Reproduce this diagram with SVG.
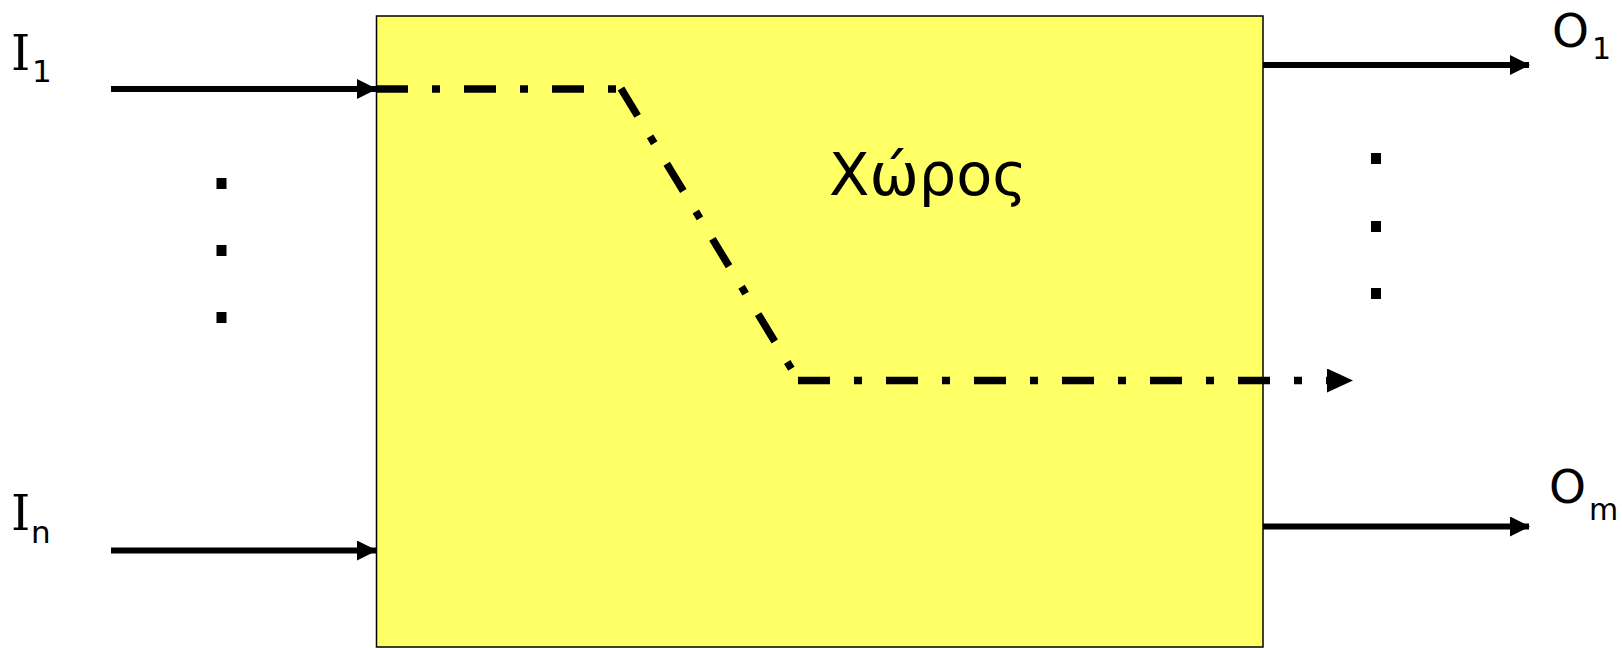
<svg xmlns="http://www.w3.org/2000/svg" width="1622" height="648" viewBox="0 0 1622 648">
<style>
.lbl{font-family:"DejaVu Sans",Verdana,sans-serif;fill:#000}
.ser{font-family:"DejaVu Serif","Liberation Serif",serif;fill:#000}
.solid{stroke:#000;stroke-width:6;fill:none}
.dd{stroke:#000;stroke-width:7.5;fill:none;stroke-dasharray:32 24 8 24;stroke-linecap:butt}
</style>
<defs>
<marker id="ah" markerUnits="userSpaceOnUse" markerWidth="20" markerHeight="20" refX="19" refY="10" orient="auto">
<path d="M0,0 L20,10 L0,20 Z" fill="#000"/>
</marker>
<marker id="ahd" markerUnits="userSpaceOnUse" markerWidth="26" markerHeight="24" refX="0" refY="12" orient="auto">
<path d="M0,0 L26,12 L0,24 Z" fill="#000"/>
</marker>
</defs>
<rect width="1622" height="648" fill="#fff"/>
<g id="space">
<rect x="376.5" y="16" width="886.5" height="631" fill="#FFFF66" stroke="#000" stroke-width="1.5"/>
<text class="lbl" x="829" y="195" font-size="59">Χώρος</text>
</g>
<g id="input-1">
<text class="ser" x="11" y="70" font-size="49">I</text>
<text class="lbl" x="32" y="82" font-size="31">1</text>
</g>
<g id="input-n">
<text class="ser" x="11" y="530" font-size="49">I</text>
<text class="lbl" x="31" y="543" font-size="31">n</text>
</g>
<g id="output-1">
<text class="lbl" x="1552" y="47" font-size="47">O</text>
<text class="lbl" x="1592" y="59" font-size="30">1</text>
</g>
<g id="output-m">
<text class="lbl" x="1549" y="503" font-size="47">O</text>
<text class="lbl" x="1589" y="520" font-size="30">m</text>
</g>
<g id="ellipsis-left" fill="#000">
<rect x="216.5" y="178" width="10" height="11"/>
<rect x="216.5" y="245" width="10" height="11"/>
<rect x="216.5" y="312" width="10" height="11"/>
</g>
<g id="ellipsis-right" fill="#000">
<rect x="1371" y="153" width="10" height="11"/>
<rect x="1371" y="221" width="10" height="11"/>
<rect x="1371" y="288" width="10" height="11"/>
</g>
<g id="connectors">
<line class="solid" x1="111" y1="89" x2="376" y2="89" marker-end="url(#ah)"/>
<line class="solid" x1="111" y1="550.5" x2="376" y2="550.5" marker-end="url(#ah)"/>
<line class="solid" x1="1263" y1="65" x2="1529" y2="65" marker-end="url(#ah)"/>
<line class="solid" x1="1263" y1="526.5" x2="1529" y2="526.5" marker-end="url(#ah)"/>
<line class="dd" x1="376" y1="89" x2="617" y2="89"/>
<line class="dd" x1="621" y1="88.5" x2="798.5" y2="380.5"/>
<line class="dd" x1="798" y1="380.5" x2="1327" y2="380.5" marker-end="url(#ahd)"/>
</g>
</svg>
